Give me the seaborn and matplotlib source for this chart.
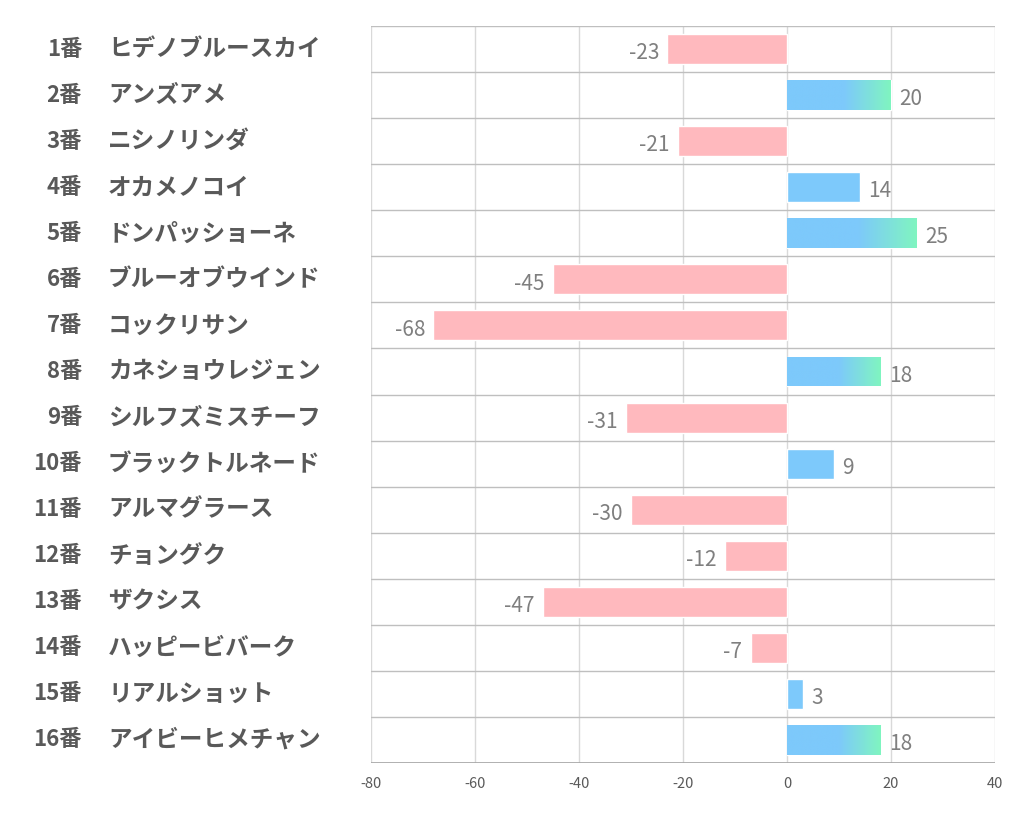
import numpy as np
import pandas as pd
import seaborn as sns
import matplotlib.pyplot as plt
from matplotlib.colors import LinearSegmentedColormap
from matplotlib.transforms import blended_transform_factory

numbers = ['1番', '2番', '3番', '4番', '5番', '6番', '7番', '8番',
           '9番', '10番', '11番', '12番', '13番', '14番', '15番', '16番']
horses = ['ヒデノブルースカイ', 'アンズアメ', 'ニシノリンダ', 'オカメノコイ',
          'ドンパッショーネ', 'ブルーオブウインド', 'コックリサン', 'カネショウレジェン',
          'シルフズミスチーフ', 'ブラックトルネード', 'アルマグラース', 'チョングク',
          'ザクシス', 'ハッピービバーク', 'リアルショット', 'アイビーヒメチャン']
scores = [-23, 20, -21, 14, 25, -45, -68, 18, -31, 9, -30, -12, -47, -7, 3, 18]
xticks = [-80, -60, -40, -20, 0, 20, 40]

df = pd.DataFrame({'horse': [f'{n} {h}' for n, h in zip(numbers, horses)], 'score': scores})

sns.set_style('white')
plt.rcParams['font.family'] = ['Noto Sans CJK JP', 'DejaVu Sans']

fig = plt.figure(figsize=(10.21, 8.34), dpi=100)
ax = fig.add_axes([0.3634, 0.0851, 0.6111, 0.8837])

blue = '#7DC9FB'
green = '#80F5C0'
pink = '#FFB9BE'
palette = [blue if v > 0 else pink for v in scores]

sns.barplot(data=df, y='horse', x='score', hue='horse', palette=palette,
            legend=False, orient='h', width=0.65, ax=ax, saturation=1, zorder=3)

ax.set_xlim(-80, 40)
ax.set_ylim(15.5, -0.5)
ax.set_xticks(xticks)
ax.set_xticklabels([str(t) for t in xticks], fontsize=10.5, color='#595959')
ax.set_yticks([])
ax.set_xlabel('')
ax.set_ylabel('')
ax.tick_params(axis='x', length=0, pad=10)

for s in ax.spines.values():
    s.set_visible(False)

for t in xticks:
    ax.axvline(t, color='#D9D9D9', lw=1, zorder=1)
for i in range(17):
    ax.axhline(i - 0.5, color='#BFBFBF', lw=1, zorder=2)
ax.axhline(15.5, color='#A6A6A6', lw=1.2, zorder=2)

# gradient fill for the longer positive bars
cmap = LinearSegmentedColormap.from_list('bg', [(0, blue), (0.55, blue), (1, green)])
grad = np.linspace(0, 1, 256).reshape(1, -1)
for p, v in zip(ax.patches, scores):
    if v >= 18:
        x0, y0 = p.get_x(), p.get_y()
        w, h = p.get_width(), p.get_height()
        im = ax.imshow(grad, cmap=cmap, aspect='auto',
                       extent=[x0, x0 + w, y0 + h, y0], zorder=4)
        im.set_clip_path(p)
ax.set_xlim(-80, 40)
ax.set_ylim(15.5, -0.5)

for i, v in enumerate(scores):
    if v > 0:
        ax.annotate(str(v), (v, i), xytext=(6, -3), textcoords='offset points',
                    ha='left', va='center', fontsize=15, color='#7F7F7F')
    else:
        ax.annotate(str(v), (v, i), xytext=(-6, -3), textcoords='offset points',
                    ha='right', va='center', fontsize=15, color='#7F7F7F')

trans = blended_transform_factory(fig.transFigure, ax.transData)
for i, (n, h) in enumerate(zip(numbers, horses)):
    fig.text(82 / 1021, i, n, transform=trans, ha='right', va='center',
             fontsize=16, fontweight='bold', color='#595959')
    fig.text(108 / 1021, i, h, transform=trans, ha='left', va='center',
             fontsize=17, fontweight='bold', color='#595959')

fig.savefig('out.png', dpi=100)
